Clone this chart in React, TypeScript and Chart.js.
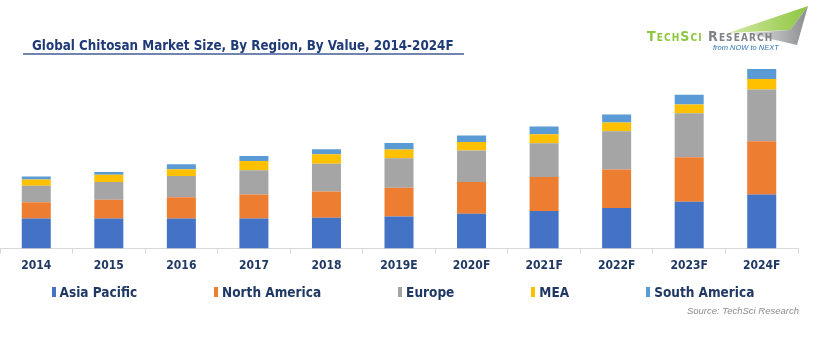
import React, { useEffect, useRef } from 'react';
import { Chart, registerables } from 'chart.js';

Chart.register(...registerables);

const years = ['2014', '2015', '2016', '2017', '2018', '2019E', '2020F', '2021F', '2022F', '2023F', '2024F'];
const asiaPacific = [30, 30, 30, 30, 30.7, 32, 34.7, 37.4, 40.6, 46.6, 54];
const northAmerica = [16.3, 18.7, 21.3, 24, 26.3, 28.7, 31.7, 34, 38.3, 44.4, 53];
const europe = [16.3, 17.6, 21, 24, 27.7, 29.3, 31.3, 33.6, 38, 44, 51.6];
const mea = [6.3, 7.4, 6.7, 9.3, 9.3, 8.7, 8.7, 9, 8.7, 8.6, 10.4];
const southAmerica = [3, 2.6, 5, 5, 5, 6.7, 6.3, 7.7, 8, 9.7, 10];

const seriesNames = ['Asia Pacific', 'North America', 'Europe', 'MEA', 'South America'];
const seriesValues = [asiaPacific, northAmerica, europe, mea, southAmerica];
const seriesColors = ['#4472C4', '#ED7D31', '#A5A5A5', '#FFC000', '#5B9BD5'];

const NAVY = '#1F3864';
const FONT = '"DejaVu Sans Condensed", "DejaVu Sans", sans-serif';

export default function App() {
  const ref = useRef<HTMLCanvasElement>(null);

  useEffect(() => {
    const chart = new Chart(ref.current as HTMLCanvasElement, {
      type: 'bar',
      data: {
        labels: years,
        datasets: seriesNames.map((name, i) => ({
          label: name,
          data: seriesValues[i],
          backgroundColor: seriesColors[i],
          borderWidth: 0,
          barPercentage: 0.4,
          categoryPercentage: 1,
        })),
      },
      options: {
        animation: false,
        responsive: false,
        maintainAspectRatio: false,
        layout: { padding: { top: 48, right: 22, bottom: 72, left: 0 } },
        plugins: { legend: { display: false }, tooltip: { enabled: false } },
        scales: {
          x: {
            stacked: true,
            grid: {
              display: true,
              drawOnChartArea: false,
              drawTicks: true,
              tickLength: 5,
              color: '#D9D9D9',
              offset: true,
            },
            border: { display: true, color: '#D9D9D9', width: 1 },
            ticks: {
              color: NAVY,
              padding: 5,
              font: { family: FONT, size: 12, weight: 'bold' },
              maxRotation: 0,
              autoSkip: false,
            },
          },
          y: { stacked: true, display: false, min: 0, max: 200 },
        },
      },
    });
    return () => chart.destroy();
  }, []);

  return (
    <div style={{ position: 'absolute', left: 0, top: 0, width: 820, height: 350, background: '#fff', overflow: 'hidden' }}>
      <canvas ref={ref} width={820} height={350} style={{ position: 'absolute', left: 0, top: 0, width: 820, height: 350 }} />
      <div
        style={{
          position: 'absolute', left: 32, top: 38, fontFamily: FONT, fontWeight: 'bold', fontSize: 13.3,
          color: '#1F3A78', whiteSpace: 'nowrap', lineHeight: '16px',
        }}
      >
        Global Chitosan Market Size, By Region, By Value, 2014-2024F
      </div>
      <div style={{ position: 'absolute', left: 23, top: 53, width: 441, height: 2, background: '#7285B0' }} />
      <svg width={820} height={60} style={{ position: 'absolute', left: 0, top: 0 }}>
        <defs>
          <linearGradient id="gr" x1="0" y1="0" x2="1" y2="0">
            <stop offset="0" stopColor="#E6E7E8" />
            <stop offset="1" stopColor="#8A8C8E" />
          </linearGradient>
          <linearGradient id="gn" x1="0" y1="0" x2="1" y2="0">
            <stop offset="0" stopColor="#D4E9A6" />
            <stop offset="1" stopColor="#8DC63F" />
          </linearGradient>
        </defs>
        <polygon points="728,33 808,6 790,30" fill="url(#gn)" />
        <polygon points="745,33 790,30 808,6 797,45" fill="url(#gr)" />
      </svg>
      <div style={{ position: 'absolute', left: 647, top: 29, whiteSpace: 'nowrap', fontFamily: FONT, fontWeight: 'bold', fontSize: 14, letterSpacing: 1.1, fontVariant: 'small-caps', lineHeight: '15px' }}>
        <span style={{ color: '#8DC63F' }}>TechSci</span>
        <span style={{ color: '#808285' }}> Research</span>
      </div>
      <div style={{ position: 'absolute', left: 713, top: 43, whiteSpace: 'nowrap', fontFamily: '"Liberation Sans", sans-serif', fontStyle: 'italic', fontSize: 7.5, color: '#2E75B6', lineHeight: '9px' }}>
        from NOW to NEXT
      </div>
      <div
        style={{
          position: 'absolute', left: 0, width: 806, top: 283, height: 18, display: 'flex', justifyContent: 'center',
          alignItems: 'center', gap: 77, fontFamily: FONT, fontWeight: 'bold', fontSize: 13.5, color: NAVY, whiteSpace: 'nowrap',
        }}
      >
        {seriesNames.map((name, i) => (
          <div key={name} style={{ display: 'flex', alignItems: 'center' }}>
            <span style={{ display: 'inline-block', width: 4, height: 10, background: seriesColors[i], marginRight: 4 }} />
            <span>{name}</span>
          </div>
        ))}
      </div>
      <div
        style={{
          position: 'absolute', right: 21, top: 305, fontFamily: '"Liberation Sans", sans-serif', fontStyle: 'italic',
          fontSize: 9.5, color: '#8C8C8C', whiteSpace: 'nowrap', lineHeight: '12px',
        }}
      >
        Source: TechSci Research
      </div>
    </div>
  );
}
